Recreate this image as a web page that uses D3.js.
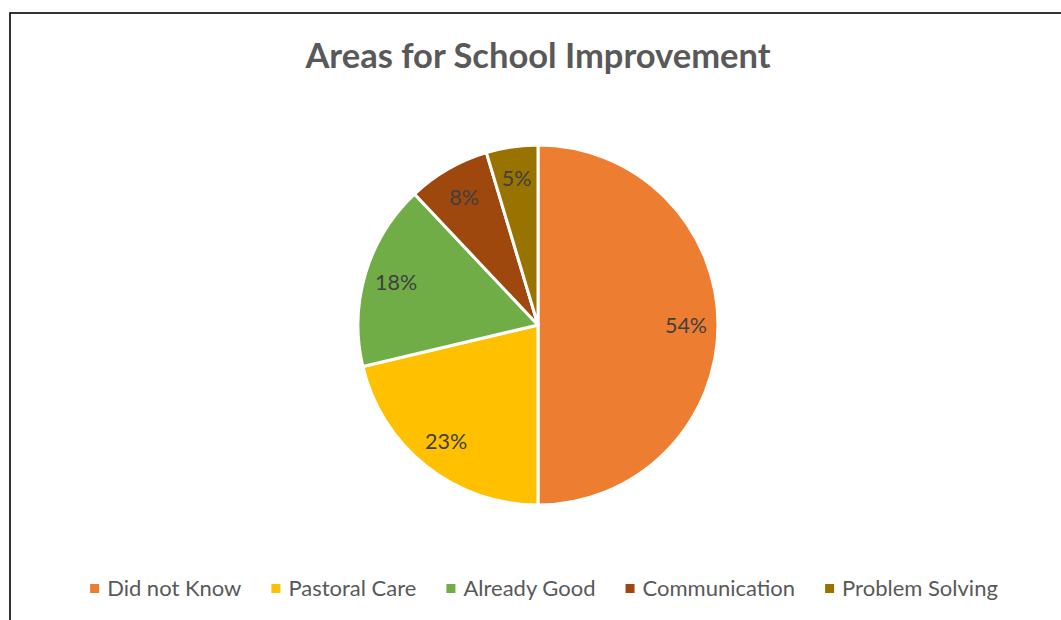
<!DOCTYPE html>
<html>
<head>
<meta charset="utf-8">
<script src="https://cdn.jsdelivr.net/npm/d3@7"></script>
<style>
  html, body { margin: 0; padding: 0; background: #fff; }
  svg { display: block; }
</style>
</head>
<body>
<svg id="chart" width="1061" height="620"></svg>
<script>
// Survey results: where pupils think the school should improve
const categories = ["Did not Know", "Pastoral Care", "Already Good", "Communication", "Problem Solving"];
const values = [54, 23, 18, 8, 5];
const colors = ["#ED7D31", "#FFC000", "#70AD47", "#9E480E", "#997300"];
const title = "Areas for School Improvement";

const W = 1061, H = 620;
const cx = 538, cy = 325, radius = 180, labelRadius = 148;
const font = "Lato, 'Open Sans', sans-serif";

const svg = d3.select("#chart");

// Frame of the chart area
svg.append("rect")
  .attr("x", 10).attr("y", 13)
  .attr("width", W + 20).attr("height", H + 20)
  .attr("fill", "#fff")
  .attr("stroke", "#000")
  .attr("stroke-width", 1.6);

// Title
svg.append("text")
  .attr("x", cx).attr("y", 68)
  .attr("text-anchor", "middle")
  .attr("font-family", font)
  .attr("font-weight", 700)
  .attr("font-size", 34.5)
  .attr("fill", "#595959")
  .text(title);

const data = categories.map((c, i) => ({ name: c, value: values[i], color: colors[i] }));

const pie = d3.pie().sort(null).value(d => d.value);
const arcs = pie(data);
const arc = d3.arc().innerRadius(0).outerRadius(radius);
const labelArc = d3.arc().innerRadius(labelRadius).outerRadius(labelRadius);

const g = svg.append("g").attr("transform", `translate(${cx},${cy})`);

g.selectAll("path.slice")
  .data(arcs)
  .join("path")
  .attr("class", "slice")
  .attr("d", arc)
  .attr("fill", d => d.data.color)
  .attr("stroke", "#fff")
  .attr("stroke-width", 3)
  .attr("stroke-linejoin", "round");

g.selectAll("text.label")
  .data(arcs)
  .join("text")
  .attr("class", "label")
  .attr("transform", d => `translate(${labelArc.centroid(d)})`)
  .attr("text-anchor", "middle")
  .attr("dy", "0.36em")
  .attr("font-family", font)
  .attr("font-size", 21.5)
  .attr("fill", "#404040")
  .text(d => d.data.value + "%");

// Legend along the bottom, centred under the pie
const legend = svg.append("g").attr("class", "legend");
const items = legend.selectAll("g.item")
  .data(data)
  .join("g")
  .attr("class", "item");

items.append("rect")
  .attr("width", 9).attr("height", 9)
  .attr("y", -12)
  .attr("fill", d => d.color);

items.append("text")
  .attr("x", 17)
  .attr("font-family", font)
  .attr("font-size", 22)
  .attr("fill", "#595959")
  .text(d => d.name);

let xPos = 0;
const gap = 30;
items.each(function() {
  const item = d3.select(this);
  const w = 17 + item.select("text").node().getComputedTextLength();
  item.attr("transform", `translate(${xPos},0)`);
  xPos += w + gap;
});
const totalW = xPos - gap;
legend.attr("transform", `translate(${544 - totalW / 2},596)`);
</script>
</body>
</html>
